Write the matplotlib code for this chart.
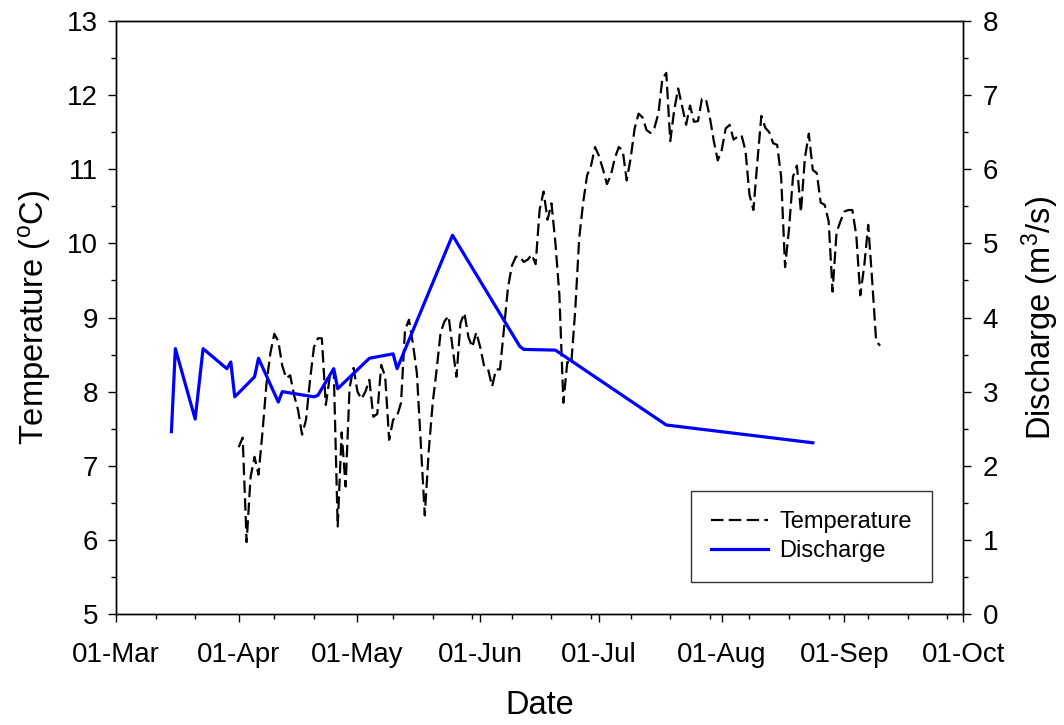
import datetime
import matplotlib
matplotlib.use("Agg")
import matplotlib.pyplot as plt
import matplotlib.dates as mdates
import numpy as np

plt.rcParams['font.family'] = ['Liberation Sans', 'DejaVu Sans']
plt.rcParams['mathtext.fontset'] = 'custom'
plt.rcParams['mathtext.rm'] = 'Liberation Sans'
plt.rcParams['mathtext.it'] = 'Liberation Sans'

# daily mean water temperature, starting 01-Apr
temp_start = '2011-04-01'
temperature = [
    7.25, 7.38, 5.97, 6.85, 7.12, 6.88, 7.45, 8.10, 8.52, 8.78,
    8.68, 8.35, 8.18, 8.22, 7.95, 7.75, 7.42, 7.62, 8.15, 8.60,
    8.72, 8.72, 7.82, 8.20, 8.30, 6.18, 7.45, 6.72, 8.05, 8.32,
    8.00, 7.90, 8.00, 8.16, 7.66, 7.70, 8.36, 8.20, 7.35, 7.62,
    7.67, 7.85, 8.83, 8.97, 8.65, 8.25, 7.30, 6.33, 7.20, 7.85,
    8.30, 8.80, 8.95, 9.02, 8.60, 8.20, 8.92, 9.06, 8.74, 8.60,
    8.80, 8.60, 8.34, 8.30, 8.07, 8.30, 8.30, 8.85, 9.40, 9.70,
    9.82, 9.82, 9.75, 9.78, 9.85, 9.72, 10.45, 10.70, 10.32, 10.54,
    10.00, 9.30, 7.85, 8.40, 8.38, 9.10, 10.07, 10.55, 10.92, 11.05,
    11.30, 11.18, 11.00, 10.80, 10.92, 11.15, 11.30, 11.25, 10.85, 11.15,
    11.55, 11.75, 11.70, 11.53, 11.49, 11.56, 11.75, 12.22, 12.30, 11.38,
    11.80, 12.09, 11.85, 11.60, 11.86, 11.64, 11.65, 11.95, 11.95, 11.70,
    11.38, 11.12, 11.26, 11.55, 11.60, 11.40, 11.44, 11.46, 11.25, 10.66,
    10.45, 11.10, 11.72, 11.56, 11.50, 11.35, 11.33, 10.90, 9.68, 10.20,
    10.90, 11.05, 10.42, 11.15, 11.48, 10.99, 10.95, 10.55, 10.52, 10.30,
    9.35, 10.15, 10.30, 10.43, 10.45, 10.45, 10.10, 9.30, 9.70, 10.25,
    9.50, 8.68, 8.62,
]

# discharge measurements
q_dates = [
    '2011-03-15', '2011-03-16', '2011-03-21', '2011-03-23', '2011-03-29',
    '2011-03-30', '2011-03-31', '2011-04-05', '2011-04-06', '2011-04-11',
    '2011-04-12', '2011-04-20', '2011-04-21', '2011-04-25', '2011-04-26',
    '2011-05-04', '2011-05-10', '2011-05-11', '2011-05-25', '2011-06-11',
    '2011-06-12', '2011-06-20', '2011-07-18', '2011-08-24',
]
discharge = [
    2.46, 3.58, 2.63, 3.58, 3.31, 3.40, 2.93, 3.20, 3.45, 2.86,
    3.00, 2.93, 2.95, 3.31, 3.04, 3.45, 3.51, 3.31, 5.11, 3.61,
    3.57, 3.56, 2.55, 2.31,
]

t_dates = np.arange(np.datetime64(temp_start), np.datetime64(temp_start) + len(temperature))
q_dates = np.array(q_dates, dtype='datetime64[D]')

fig = plt.figure(figsize=(10.64, 7.25), dpi=100)
ax = fig.add_axes([0.1090, 0.1531, 0.7963, 0.8179])
ax2 = ax.twinx()

l1, = ax.plot(t_dates, temperature, color='black', lw=1.6,
              linestyle=(0, (5.6, 2.4)), label='Temperature')
l2, = ax2.plot(q_dates, discharge, color='#0000ff', lw=2.3, label='Discharge')

x0 = datetime.date(2011, 3, 1)
x1 = datetime.date(2011, 10, 1)
ax.set_xlim(x0, x1)
ax.set_ylim(5, 13)
ax2.set_ylim(0, 8)

ax.xaxis.set_major_locator(mdates.MonthLocator())
ax.xaxis.set_major_formatter(mdates.DateFormatter('%d-%b'))
# minor ticks every 10 days from the axis start
minor = [x0 + datetime.timedelta(days=d) for d in range(10, 214, 10) if d not in (30, 60)]
ax.set_xticks(minor, minor=True)

ax.set_yticks(np.arange(5, 14, 1))
ax.set_yticks(np.arange(5.5, 13, 1), minor=True)
ax2.set_yticks(np.arange(0, 9, 1))
ax2.set_yticks(np.arange(0.5, 8, 1), minor=True)

for a in (ax, ax2):
    a.tick_params(which='major', direction='out', length=6, width=1, labelsize=20)
    a.tick_params(which='minor', direction='out', length=3.5, width=1)
    for s in a.spines.values():
        s.set_linewidth(1.0)
ax.tick_params(axis='x', which='both', top=False, pad=14)
ax.tick_params(axis='y', which='both', right=False, pad=7)
ax2.tick_params(axis='y', which='both', pad=8)

ax.set_xlabel('Date', fontsize=23.5, labelpad=16)
ax.set_ylabel(r'Temperature ($^{\mathrm{o}}$C)', fontsize=23.5, labelpad=10)
ax2.set_ylabel(r'Discharge (m$^{3}$/s)', fontsize=23.5, labelpad=15)

leg = ax.legend([l1, l2], ['Temperature', 'Discharge'], loc='lower right',
                bbox_to_anchor=(0.963, 0.054), borderaxespad=0, fontsize=17,
                frameon=True, fancybox=False, handlelength=2.4,
                handletextpad=0.5, borderpad=0.85, labelspacing=0.3)
leg.get_frame().set_edgecolor('black')
leg.get_frame().set_linewidth(1.0)

fig.savefig('out.png', dpi=100)
